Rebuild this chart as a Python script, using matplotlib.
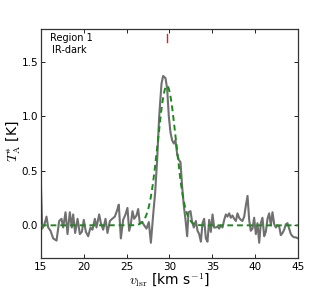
import numpy as np
import matplotlib
matplotlib.use("Agg")
from matplotlib import pyplot as plt

# spectrum (velocity in km/s, antenna temperature in K)
velocity = [15.00, 15.16, 15.39, 15.66, 15.86, 16.13, 16.44, 16.83, 17.14, 17.41,
            17.60, 17.88, 18.11, 18.38, 18.61, 18.77, 19.00, 19.28, 19.55, 19.78,
            20.01, 20.25, 20.52, 20.79, 21.02, 21.30, 21.49, 21.80, 22.00, 22.27,
            22.54, 22.77, 23.05, 23.32, 23.63, 23.90, 24.09, 24.33, 24.60, 24.87,
            25.10, 25.30, 25.49, 25.69, 25.88, 26.15, 26.35, 26.54, 26.81, 27.05,
            27.32, 27.59, 27.83, 28.10, 28.33, 28.56, 28.80, 29.07, 29.26, 29.54,
            29.73, 29.92, 30.12, 30.31, 30.51, 30.70, 30.90, 31.09, 31.28, 31.48,
            31.67, 31.87, 32.06, 32.22, 32.45, 32.64, 32.84, 33.07, 33.27, 33.46,
            33.66, 33.85, 34.04, 34.24, 34.43, 34.63, 34.82, 35.02, 35.21, 35.40,
            35.60, 35.79, 35.99, 36.18, 36.38, 36.57, 36.76, 36.96, 37.15, 37.35,
            37.54, 37.74, 37.93, 38.12, 38.32, 38.51, 38.71, 38.90, 39.10, 39.29,
            39.48, 39.68, 39.87, 40.07, 40.26, 40.46, 40.65, 40.84, 41.04, 41.23,
            41.43, 41.62, 41.82, 42.01, 42.21, 42.40, 42.59, 42.79, 42.98, 43.18,
            43.37, 43.57, 43.76, 43.95, 44.15, 44.34, 44.54, 44.73, 45.00]
temperature = [0.40, -0.03, 0.00, 0.08, -0.02, -0.05, -0.12, -0.14, 0.04, 0.06,
               -0.02, 0.12, -0.08, 0.12, -0.02, 0.10, -0.07, 0.06, -0.08, -0.06,
               0.05, -0.06, -0.10, -0.02, -0.04, 0.06, -0.02, 0.10, 0.02, -0.04,
               0.06, -0.07, 0.04, 0.06, 0.08, 0.14, 0.19, -0.12, 0.05, 0.10,
               0.16, -0.05, 0.01, 0.13, 0.06, 0.09, 0.15, 0.02, 0.03, 0.00,
               -0.03, 0.03, -0.16, 0.10, 0.30, 0.60, 1.00, 1.30, 1.37, 1.35,
               1.25, 1.00, 0.85, 0.78, 0.75, 0.78, 0.65, 0.60, 0.58, 0.35,
               0.18, 0.05, -0.10, 0.12, 0.13, 0.03, -0.02, 0.04, -0.05, -0.08,
               -0.15, 0.02, 0.06, -0.12, -0.15, 0.05, -0.06, 0.10, -0.02, -0.02,
               -0.01, -0.03, 0.00, -0.02, 0.05, 0.10, 0.08, 0.11, 0.07, 0.09,
               0.06, 0.04, 0.11, 0.07, 0.05, 0.04, 0.08, 0.18, 0.27, 0.05,
               -0.05, -0.03, 0.07, -0.08, 0.02, -0.16, 0.02, 0.07, -0.10, -0.06,
               0.06, 0.11, 0.00, 0.12, 0.01, -0.02, 0.00, -0.01, -0.09, -0.07,
               -0.04, 0.01, 0.02, -0.03, -0.08, -0.10, -0.11, -0.11, -0.12]

# gaussian fit parameters
fit_amp = 1.28
fit_centre = 29.7
fit_sigma = 1.05
marker_velocity = 29.75

plt.rcParams["mathtext.fontset"] = "cm"

fig = plt.figure(figsize=(3.32, 2.88), dpi=100)
ax = fig.add_axes([0.123, 0.104, 0.775, 0.795])

ax.plot(velocity, temperature, color="#707070", lw=1.5, zorder=2)

v_fit = np.linspace(15, 45, 600)
t_fit = fit_amp * np.exp(-0.5 * ((v_fit - fit_centre) / fit_sigma) ** 2)
ax.plot(v_fit, t_fit, color="#1a8a1a", lw=1.4, ls=(0, (3, 2)), zorder=3)

ax.plot([marker_velocity, marker_velocity], [1.68, 1.755], color="#dd2222", lw=1.0)

ax.text(0.035, 0.985, "Region 1", transform=ax.transAxes, fontsize=7, va="top", ha="left")
ax.text(0.042, 0.93, "IR-dark", transform=ax.transAxes, fontsize=7, va="top", ha="left")

ax.set_xlim(15, 45)
ax.set_ylim(-0.3, 1.8)
ax.set_xticks([15, 20, 25, 30, 35, 40, 45])
ax.set_yticks([0.0, 0.5, 1.0, 1.5])
ax.tick_params(direction="in", top=True, right=True, length=3, labelsize=7.5, width=0.6)
ax.tick_params(axis="x", pad=3)
ax.tick_params(axis="y", pad=2)
for s in ax.spines.values():
    s.set_linewidth(0.9)
    s.set_color("#333333")

fig.text(0.512, 0.026, r"$v_{\rm lsr}$ [km s$^{-1}$]", fontsize=10, ha="center", va="center")
fig.text(0.042, 0.51, r"$T_{\rm A}^{*}$ [K]", fontsize=10, ha="center", va="center", rotation=90)

fig.savefig("out.png", dpi=100)
